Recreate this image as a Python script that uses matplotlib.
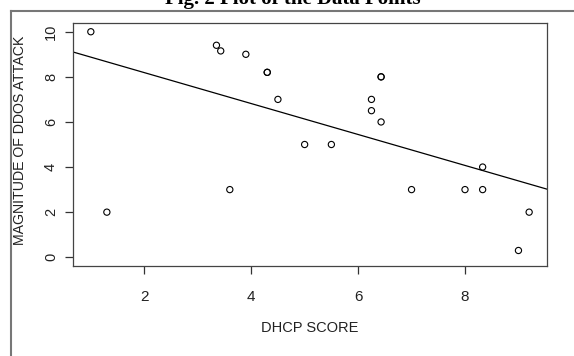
import numpy as np
import matplotlib
matplotlib.use('Agg')
import matplotlib.pyplot as plt
from matplotlib.lines import Line2D

# data points (duplicates drawn twice -> bold)
dhcp_score = [1.0, 1.3, 3.35, 3.43, 3.9, 3.6, 4.3, 4.3, 4.5, 5.0, 5.5,
              6.25, 6.25, 6.43, 6.43, 6.43, 7.0, 8.0, 8.33, 8.33, 9.2, 9.0]
ddos_magnitude = [10, 2, 9.4, 9.15, 9, 3, 8.2, 8.2, 7, 5, 5,
                  7, 6.5, 6, 8, 8, 3, 3, 3, 4, 2, 0.3]

# fitted line as drawn in the picture
line_intercept = 9.56
line_slope = -0.686

x_ticks = [2, 4, 6, 8]
y_ticks = [0, 2, 4, 6, 8, 10]

fig = plt.figure(figsize=(5.74, 3.56), dpi=100)
ax = fig.add_axes([0.1277, 0.2528, 0.8247, 0.6826])

ax.scatter(dhcp_score, ddos_magnitude, s=20, facecolors='none',
           edgecolors='black', linewidths=0.8, zorder=3)

# R style 4% range extension
x = np.array(dhcp_score)
y = np.array(ddos_magnitude)
xr = x.max() - x.min()
yr = y.max() - y.min()
ax.set_xlim(x.min() - 0.04 * xr, x.max() + 0.04 * xr)
ax.set_ylim(y.min() - 0.04 * yr - 0.3, y.max() + 0.04 * yr)

xl = np.array(ax.get_xlim())
ax.plot(xl, line_intercept + line_slope * xl, color='black', lw=0.9)

tick_font = ['Liberation Sans Narrow', 'Liberation Sans', 'DejaVu Sans']
ax.set_xticks(x_ticks)
ax.set_yticks(y_ticks)
ax.set_xticklabels([str(t) for t in x_ticks], family=tick_font, fontsize=11)
ax.set_yticklabels([str(t) for t in y_ticks], family=['Liberation Sans', 'DejaVu Sans'],
                   fontsize=10.5, rotation=90, va='center')
ax.tick_params(axis='both', direction='out', length=6, width=0.9, colors='#333333',
               labelcolor='#222222')
ax.tick_params(axis='x', pad=11)
ax.tick_params(axis='y', pad=5)

for sp in ax.spines.values():
    sp.set_color('#444444')
    sp.set_linewidth(0.9)

fig.text(20 / 574, 1 - 140 / 356, 'MAGNITUDE OF DDOS ATTACK', rotation=90,
         ha='center', va='center', fontsize=10.2,
         family=['Liberation Sans', 'DejaVu Sans'], color='#222222')
fig.text(0.5 * (73.3 + 546.7) / 574, 1 - 328 / 356, 'DHCP SCORE',
         ha='center', va='center', fontsize=10.5, family=tick_font, color='#222222')

# outer frame (left and top only)
fig.add_artist(Line2D([11 / 574, 11 / 574], [0, 1 - 11 / 356],
                      transform=fig.transFigure, color='#777777', lw=1.5))
fig.add_artist(Line2D([11 / 574, 1], [1 - 11 / 356, 1 - 11 / 356],
                      transform=fig.transFigure, color='#777777', lw=1.5))

# title, cut by the top edge as in the scanned figure
fig.text(293 / 574, 1 - 4 / 356, 'Fig. 2 Plot of the Data Points', ha='center',
         va='baseline', fontsize=15, fontweight='bold',
         family=['Liberation Serif', 'DejaVu Serif'])

fig.savefig('out.png', dpi=100)
